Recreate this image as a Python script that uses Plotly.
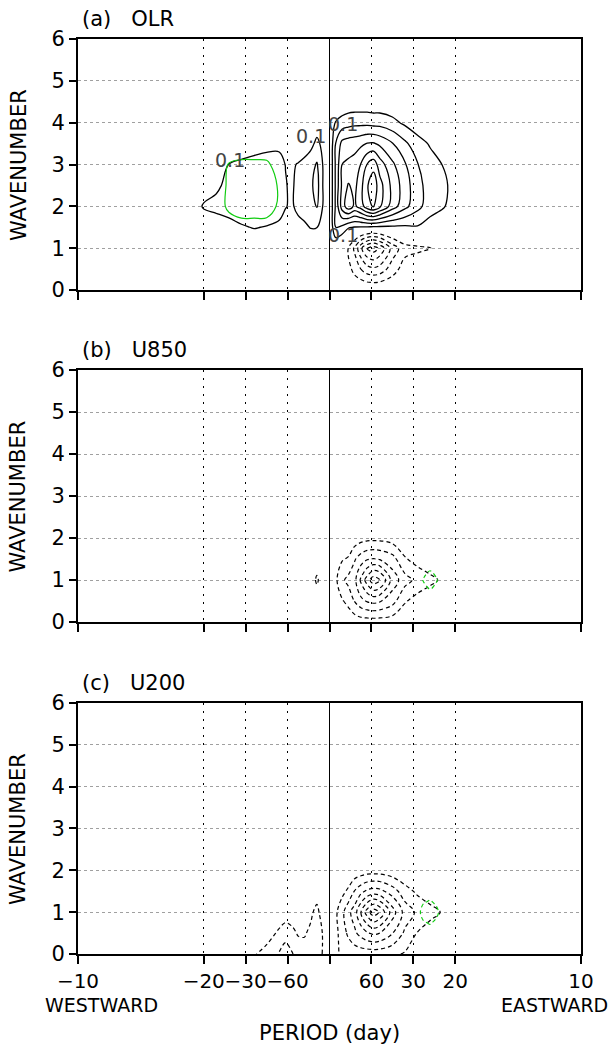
import plotly.graph_objects as go

# ---------------- data ----------------
# frequency grid (cycles/day, negative = westward) and zonal wavenumber grid
FREQ = [-0.06, -0.055, -0.05, -0.045, -0.04, -0.035, -0.03, -0.025, -0.02, -0.0175,
        -0.015, -0.0125, -0.01, -0.0075, -0.005, -0.0025, 0.0,
        0.0025, 0.005, 0.0075, 0.01, 0.0125, 0.015, 0.0175, 0.02, 0.025,
        0.03, 0.035, 0.04, 0.045, 0.05, 0.055, 0.06]
WAVENUMBER = [0, 0.5, 1, 1.5, 2, 2.5, 3, 3.5, 4, 4.5, 5]

Z16 = [0] * 16

# (a) OLR   rows = wavenumber, columns = FREQ (west 16 | 0 | east 16)
OLR = [
    Z16 + [0] + Z16,
    Z16 + [0] + [0, -0.02, -0.06, -0.14, -0.2, -0.26, -0.28, -0.26, -0.15, -0.05, -0.03, 0, 0, 0, 0, 0],
    [0, 0, 0, 0.01, 0.02, 0.03, 0.03, 0.03, 0.02, 0.01, 0.01, 0.02, 0.02, 0.02, 0.02, 0.01] + [0] +
    [0, -0.06, -0.105, -0.22, -0.38, -0.505, -0.55, -0.48, -0.26, -0.14, -0.12, -0.105, -0.02, 0, 0, 0],
    [0, 0, 0.03, 0.04, 0.06, 0.09, 0.105, 0.095, 0.08, 0.06, 0.04, 0.06, 0.08, 0.105, 0.102, 0.05] + [0] +
    [0.2, 0.18, 0.11, 0.095, 0.09, 0.09, 0.08, 0.08, 0.08, 0.08, 0.09, 0.05, 0.03, 0, 0, 0],
    [0, 0.04, 0.11, 0.13, 0.15, 0.16, 0.165, 0.165, 0.14, 0.105, 0.085, 0.13, 0.15, 0.17, 0.205, 0.09] + [0] +
    [0.22, 0.45, 0.56, 0.48, 0.55, 0.66, 0.71, 0.62, 0.45, 0.33, 0.23, 0.15, 0.11, 0.06, 0, 0],
    [0, 0, 0.05, 0.08, 0.13, 0.16, 0.17, 0.17, 0.15, 0.105, 0.085, 0.13, 0.15, 0.18, 0.24, 0.09] + [0] +
    [0.22, 0.42, 0.51, 0.47, 0.57, 0.69, 0.77, 0.64, 0.47, 0.35, 0.23, 0.16, 0.12, 0.07, 0, 0],
    [0, 0, 0, 0.05, 0.102, 0.12, 0.13, 0.135, 0.13, 0.098, 0.09, 0.105, 0.12, 0.16, 0.21, 0.09] + [0] +
    [0.22, 0.4, 0.42, 0.44, 0.505, 0.605, 0.66, 0.55, 0.42, 0.31, 0.205, 0.14, 0.098, 0.05, 0, 0],
    [0, 0, 0, 0, 0, 0.04, 0.06, 0.075, 0.08, 0.05, 0.03, 0.04, 0.06, 0.07, 0.125, 0.07] + [0] +
    [0.205, 0.33, 0.35, 0.36, 0.38, 0.405, 0.41, 0.38, 0.305, 0.22, 0.14, 0.09, 0.05, 0, 0, 0],
    [0] * 14 + [0.04, 0.02] + [0] +
    [0.11, 0.14, 0.16, 0.17, 0.17, 0.17, 0.16, 0.16, 0.13, 0.08, 0.04, 0.02, 0, 0, 0, 0],
    Z16 + [0] + [0, 0.02, 0.03, 0.03, 0.03, 0.03, 0.03, 0.03, 0.02, 0, 0, 0, 0, 0, 0, 0],
    Z16 + [0] + Z16,
]

# (b) U850
U850 = [
    Z16 + [0] + [0, -0.02, -0.03, -0.04, -0.05, -0.05, -0.05, -0.05, -0.04, -0.02, 0, 0, 0, 0, 0, 0],
    Z16 + [0] + [-0.04, -0.09, -0.13, -0.205, -0.27, -0.31, -0.33, -0.31, -0.24, -0.11, -0.06, -0.02, 0, 0, 0, 0],
    [0] * 14 + [-0.128, 0] + [-0.03] +
    [-0.08, -0.18, -0.23, -0.27, -0.42, -0.55, -0.66, -0.62, -0.36, -0.24, -0.17, -0.13, -0.08, 0, 0, 0],
    Z16 + [0] + [-0.04, -0.09, -0.11, -0.19, -0.25, -0.29, -0.305, -0.29, -0.24, -0.11, -0.06, -0.02, 0, 0, 0, 0],
    Z16 + [0] + [0, -0.01, -0.02, -0.04, -0.06, -0.07, -0.07, -0.07, -0.05, -0.02, 0, 0, 0, 0, 0, 0],
    Z16 + [0] + Z16,
    Z16 + [0] + Z16,
    Z16 + [0] + Z16,
    Z16 + [0] + Z16,
    Z16 + [0] + Z16,
    Z16 + [0] + Z16,
]

# (c) U200
U200 = [
    [0, 0, 0, 0, 0, -0.03, -0.09, -0.14, -0.21, -0.26, -0.21, -0.16, -0.14, -0.14, -0.15, -0.09] + [-0.03] +
    [-0.08, -0.12, -0.13, -0.14, -0.14, -0.14, -0.14, -0.14, -0.12, -0.09, -0.05, -0.02, 0, 0, 0, 0],
    [0, 0, 0, 0, 0, 0, -0.01, -0.05, -0.12, -0.15, -0.13, -0.09, -0.09, -0.12, -0.16, -0.09] + [-0.02] +
    [-0.07, -0.15, -0.22, -0.28, -0.34, -0.39, -0.42, -0.4, -0.305, -0.18, -0.095, -0.04, 0, 0, 0, 0],
    [0, 0, 0, 0, 0, 0, 0, -0.01, -0.03, -0.05, -0.04, -0.02, -0.02, -0.08, -0.13, -0.04] + [-0.03] +
    [-0.08, -0.17, -0.27, -0.35, -0.505, -0.65, -0.76, -0.69, -0.45, -0.26, -0.18, -0.14, -0.09, 0, 0, 0],
    [0] * 14 + [-0.05, -0.01] + [0] +
    [-0.02, -0.07, -0.12, -0.205, -0.27, -0.32, -0.34, -0.33, -0.25, -0.14, -0.08, -0.03, 0, 0, 0, 0],
    Z16 + [0] + [0, 0, -0.01, -0.03, -0.04, -0.05, -0.05, -0.05, -0.03, -0.01, 0, 0, 0, 0, 0, 0],
    Z16 + [0] + Z16,
    Z16 + [0] + Z16,
    Z16 + [0] + Z16,
    Z16 + [0] + Z16,
    Z16 + [0] + Z16,
    Z16 + [0] + Z16,
]

# second (green) field on small local grids
GREEN_A_FREQ = [-0.045, -0.04, -0.035, -0.03, -0.025, -0.02, -0.015]
GREEN_A_WAVE = [1.5, 2, 2.5, 3, 3.5]
GREEN_A = [
    [0, 0, 0, 0, 0, 0, 0],
    [0, 0.14, 0.23, 0.23, 0.22, 0.06, 0],
    [0, 0.13, 0.25, 0.25, 0.24, 0.07, 0],
    [0, 0.11, 0.13, 0.13, 0.125, 0.04, 0],
    [0, 0, 0, 0, 0, 0, 0],
]
GREEN_BC_FREQ = [0.035, 0.0375, 0.04, 0.0425, 0.045]
GREEN_BC_WAVE = [0.5, 0.75, 1.0, 1.25, 1.5]
GREEN_B = [
    [0, 0, 0, 0, 0],
    [0, -0.03, -0.08, -0.03, 0],
    [0, -0.12, -0.25, -0.12, 0],
    [0, -0.03, -0.08, -0.03, 0],
    [0, 0, 0, 0, 0],
]
GREEN_C = [
    [0, 0, 0, 0, 0],
    [0, -0.08, -0.12, -0.06, 0],
    [0, -0.22, -0.3, -0.15, 0],
    [0, -0.08, -0.12, -0.06, 0],
    [0, 0, 0, 0, 0],
]

PERIOD_TICKS = [-10, -20, -30, -60, 0, 60, 30, 20, 10]
PERIOD_LABELS = ["\u221210", "\u221220", "\u221230", "\u221260", "", "60", "30", "20", "10"]
WAVE_TICKS = [0, 1, 2, 3, 4, 5, 6]
TITLES = ["(a)   OLR", "(b)   U850", "(c)   U200"]
LABEL_POS_A = [(-0.0394, 3.1), (-0.0072, 3.68), (0.0053, 3.96), (0.0053, 1.32)]

# ---------------- figure ----------------
FONT = "DejaVu Sans, Liberation Sans, sans-serif"
freq_ticks = [0.0 if p == 0 else 1.0 / p for p in PERIOD_TICKS]
domains = [[0.72568, 1.0], [0.36284, 0.63825], [0.0, 0.27432]]
fields = [OLR, U850, U200]
greens = [(GREEN_A_FREQ, GREEN_A_WAVE, GREEN_A),
          (GREEN_BC_FREQ, GREEN_BC_WAVE, GREEN_B),
          (GREEN_BC_FREQ, GREEN_BC_WAVE, GREEN_C)]

fig = go.Figure()


def contour(x, y, z, xa, ya, start, end, color, dash, width):
    return go.Contour(
        x=x, y=y, z=z, xaxis=xa, yaxis=ya, autocontour=False,
        contours=dict(coloring="none", start=start, end=end, size=0.1, showlabels=False),
        line=dict(color=color, width=width, dash=dash, smoothing=1.0),
        showscale=False, hoverinfo="skip", showlegend=False)


layout = dict(width=614, height=1048, margin=dict(l=78, r=33, t=39, b=94),
              paper_bgcolor="white", plot_bgcolor="white", showlegend=False)
annotations = []
for i in range(3):
    xa = "x" if i == 0 else f"x{i + 1}"
    ya = "y" if i == 0 else f"y{i + 1}"
    fig.add_trace(contour(FREQ, WAVENUMBER, fields[i], xa, ya, 0.1, 0.9, "black", "solid", 1.3))
    fig.add_trace(contour(FREQ, WAVENUMBER, fields[i], xa, ya, -0.9, -0.1, "black", "4px,3px", 1.2))
    gx, gy, gz = greens[i]
    fig.add_trace(contour(gx, gy, gz, xa, ya, 0.1, 0.1, "#11cc11", "solid", 1.2))
    fig.add_trace(contour(gx, gy, gz, xa, ya, -0.1, -0.1, "#11cc11", "4px,3px", 1.2))

    xkey = "xaxis" if i == 0 else f"xaxis{i + 1}"
    ykey = "yaxis" if i == 0 else f"yaxis{i + 1}"
    layout[xkey] = dict(
        domain=[0, 1], anchor=ya, range=[-0.1, 0.1], tickvals=freq_ticks,
        ticktext=PERIOD_LABELS if i == 2 else [""] * len(PERIOD_TICKS),
        showticklabels=(i == 2), tickangle=0,
        showgrid=True, gridcolor="black", griddash="2px,6px", gridwidth=1,
        zeroline=True, zerolinecolor="black", zerolinewidth=1.3,
        showline=True, linecolor="black", linewidth=2, mirror=True,
        ticks="outside", ticklen=8, tickwidth=2, tickcolor="black",
        tickfont=dict(family=FONT, size=20, color="black"), fixedrange=True)
    layout[ykey] = dict(
        domain=domains[i], anchor=xa, range=[0, 6], tickvals=WAVE_TICKS,
        showgrid=True, gridcolor="#a0a0a0", griddash="3px,3px", gridwidth=1,
        zeroline=False, showline=True, linecolor="black", linewidth=2, mirror=True,
        ticks="outside", ticklen=7, tickwidth=1.5, tickcolor="black",
        tickfont=dict(family=FONT, size=21, color="black"), fixedrange=True)

    top = domains[i][1]
    annotations.append(dict(text=TITLES[i], xref="paper", yref="paper", x=0.004, y=top + 0.0219,
                            xanchor="left", yanchor="middle", showarrow=False,
                            font=dict(family=FONT, size=21, color="black")))
    annotations.append(dict(text="WAVENUMBER", xref="paper", yref="paper", x=-0.1183,
                            y=(domains[i][0] + domains[i][1]) / 2, textangle=-90,
                            xanchor="center", yanchor="middle", showarrow=False,
                            font=dict(family=FONT, size=21, color="black")))

for (lx, ly) in LABEL_POS_A:
    annotations.append(dict(text="0.1", xref="x", yref="y", x=lx, y=ly, showarrow=False,
                            xanchor="center", yanchor="middle",
                            font=dict(family=FONT, size=19, color="#444444")))

annotations += [
    dict(text="WESTWARD", xref="paper", yref="paper", x=0.0477, y=-0.0557, showarrow=False,
         xanchor="center", yanchor="middle", font=dict(family=FONT, size=19, color="black")),
    dict(text="EASTWARD", xref="paper", yref="paper", x=0.948, y=-0.0557, showarrow=False,
         xanchor="center", yanchor="middle", font=dict(family=FONT, size=19, color="black")),
    dict(text="PERIOD (day)", xref="paper", yref="paper", x=0.5, y=-0.0863, showarrow=False,
         xanchor="center", yanchor="middle", font=dict(family=FONT, size=21, color="black")),
]
layout["annotations"] = annotations
fig.update_layout(**layout)
fig.write_html("out.html")
